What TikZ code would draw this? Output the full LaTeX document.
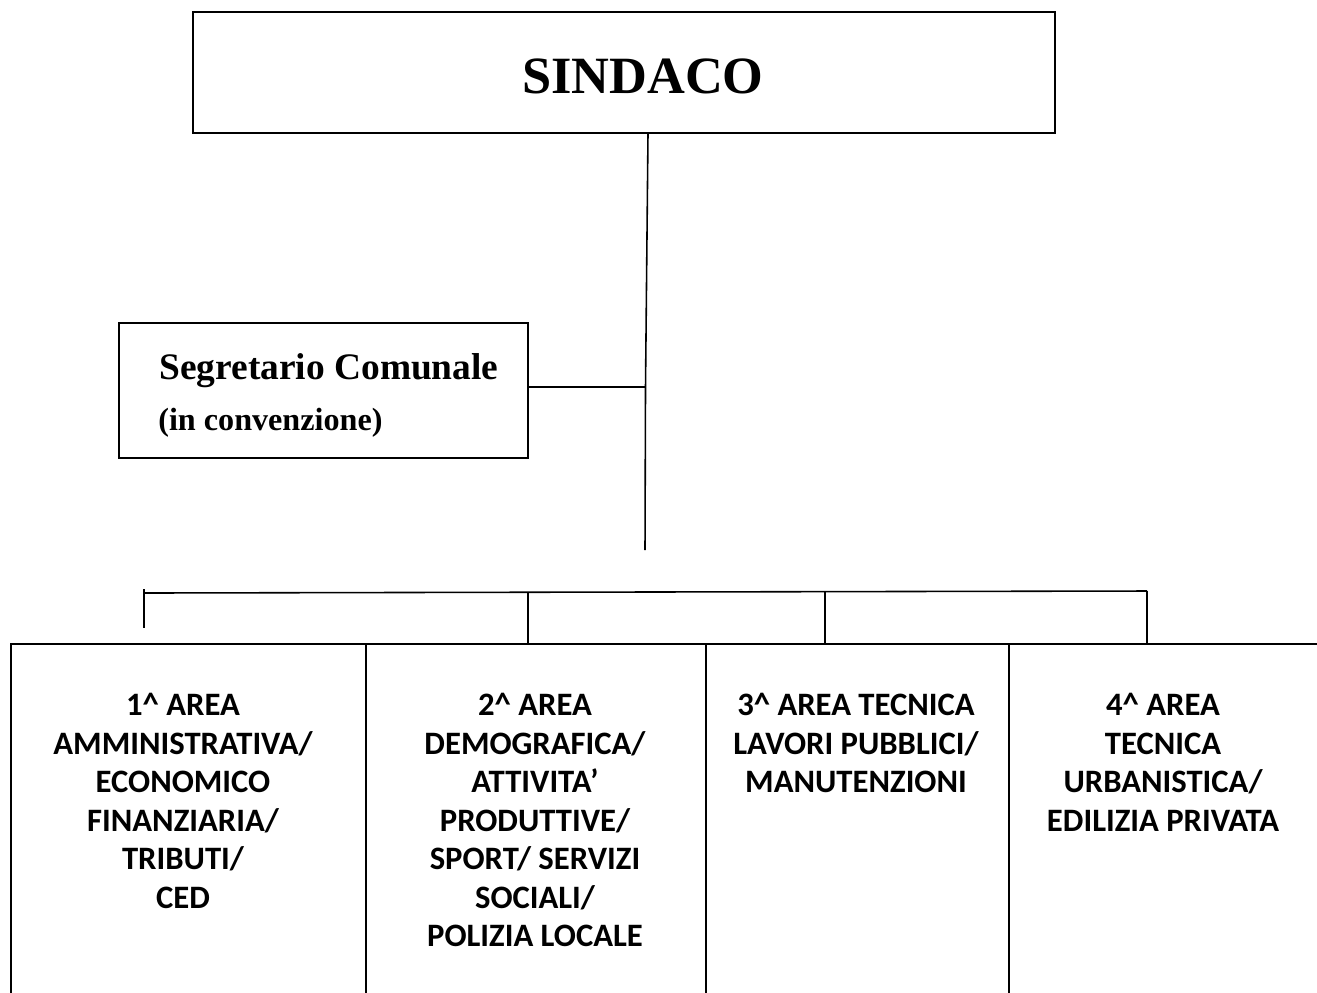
\documentclass[tikz,border=0pt]{standalone}
\usepackage{fontspec}
\setmainfont{Liberation Serif}
\newfontfamily\areafont{Carlito}
\usetikzlibrary{positioning}

\tikzset{
  box/.style={draw, line width=1.2pt, inner sep=0pt, outer sep=0pt},
  link/.style={line width=0.9pt},
  areatext/.style={font=\areafont\bfseries\fontsize{18.6}{21.9}\selectfont, align=center, inner sep=0pt, anchor=north},
}

\begin{document}
\begin{tikzpicture}[x=0.02cm, y=-0.02cm]
			%%%%% START %%%%%
			\useasboundingbox (0,0) rectangle (1317,992);
			\clip (0,0) rectangle (1317,992);
			
			% sindaco
			\node[box, minimum width=17.24cm, minimum height=2.42cm] (sindaco) at (624,72.5) {};
			\node[font=\bfseries\fontsize{29.8}{34}\selectfont, anchor=base, inner sep=0pt] (sindacotxt) at (643,93) {SINDACO};
			
			% segretario
			\node[box, minimum width=8.18cm, minimum height=2.7cm] (segr) at (323.5,390.5) {};
			\node[font=\bfseries\fontsize{21.3}{25}\selectfont, anchor=base west, inner sep=0pt] (segrtxt) at (159,379) {Segretario Comunale};
			\node[font=\bfseries\fontsize{18.3}{22}\selectfont, anchor=base west, inner sep=0pt] (segrsub) at (158,430) {(in convenzione)};
			
			\coordinate (vx) at (648,0);
			\coordinate (vmid) at (645.5,387);
			\coordinate (vend) at (645,550);
			\draw[link] (sindaco.south -| vx) -- (vmid) -- (vend);
			\draw[link] (segr.east |- vmid) -- (vmid);
			
			% aree
			\node[box, minimum width=7.1cm, minimum height=7.32cm, anchor=north west] (c1) at (11,644) {};
			\node[box, minimum width=6.8cm, minimum height=7.32cm, anchor=north west] (c2) at (366,644) {};
			\node[box, minimum width=6.06cm, minimum height=7.32cm, anchor=north west] (c3) at (706,644) {};
			\node[box, minimum width=6.6cm, minimum height=7.32cm, anchor=north west] (c4) at (1009,644) {};
			
			\coordinate (t1) at (144,593);
			\coordinate (t2) at (528,592);
			\coordinate (t3) at (825,592);
			\coordinate (t4) at (1147,591);
			\draw[link] (t1) -- (t4);
			\draw[link] (144,589) -- (144,628);
			\foreach \t/\c in {t2/c2, t3/c3, t4/c4}
				\draw[link] (\t) -- (\t |- \c.north);
			
			\node[areatext] (a1) at (183,693) {1\textasciicircum{} AREA\\AMMINISTRATIVA/\\ECONOMICO\\FINANZIARIA/\\TRIBUTI/\\CED};
			\node[areatext] (a2) at (535,693) {2\textasciicircum{} AREA\\DEMOGRAFICA/\\ATTIVITA’\\PRODUTTIVE/\\SPORT/ SERVIZI\\SOCIALI/\\POLIZIA LOCALE};
			\node[areatext] (a3) at (856,693) {3\textasciicircum{} AREA TECNICA\\LAVORI PUBBLICI/\\MANUTENZIONI};
			\node[areatext] (a4) at (1163,693) {4\textasciicircum{} AREA\\TECNICA\\URBANISTICA/\\EDILIZIA PRIVATA};
			%%%%% END %%%%%
\end{tikzpicture}
\end{document}
